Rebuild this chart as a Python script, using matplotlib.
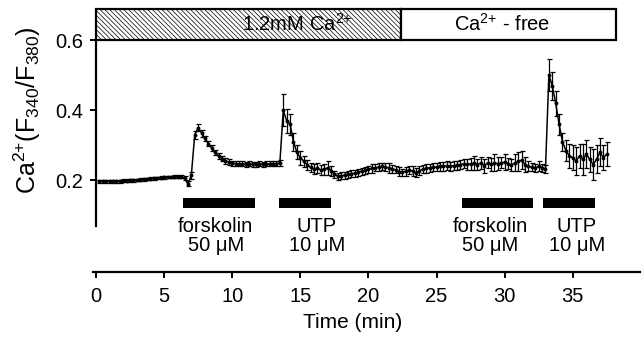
import numpy as np
import matplotlib
matplotlib.use("Agg")
import matplotlib.pyplot as plt
from matplotlib.patches import Rectangle

plt.rcParams['font.family'] = ['Liberation Sans', 'DejaVu Sans']
plt.rcParams['mathtext.fontset'] = 'custom'
plt.rcParams['mathtext.rm'] = 'Liberation Sans'
plt.rcParams['hatch.color'] = '#909090'
plt.rcParams['hatch.linewidth'] = 0.5

# ---- data (time step 0.25 min) ----
t_start, t_step = 0.25, 0.25
ratio = [
    0.197, 0.197, 0.197, 0.198,
    0.198, 0.198, 0.198, 0.199,
    0.199, 0.200, 0.200, 0.201,
    0.202, 0.203, 0.204, 0.205,
    0.206, 0.207, 0.208, 0.209,
    0.210, 0.210, 0.211, 0.211,
    0.211, 0.206, 0.190, 0.215,
    0.330, 0.350, 0.335, 0.320,
    0.305, 0.292, 0.280, 0.270,
    0.262, 0.256, 0.252, 0.249,
    0.248, 0.247, 0.247, 0.246,
    0.247, 0.246, 0.246, 0.247,
    0.246, 0.247, 0.247, 0.248,
    0.248, 0.250, 0.400, 0.370,
    0.360, 0.310, 0.280, 0.265,
    0.255, 0.245, 0.237, 0.232,
    0.235, 0.230, 0.232, 0.236,
    0.228, 0.218, 0.212, 0.213,
    0.215, 0.217, 0.219, 0.221,
    0.223, 0.226, 0.229, 0.232,
    0.234, 0.236, 0.238, 0.240,
    0.238, 0.236, 0.233, 0.230,
    0.225, 0.223, 0.226, 0.230,
    0.226, 0.222, 0.228, 0.232,
    0.234, 0.236, 0.238, 0.238,
    0.240, 0.240, 0.242, 0.240,
    0.242, 0.243, 0.245, 0.248,
    0.246, 0.247, 0.250, 0.245,
    0.250, 0.242, 0.250, 0.246,
    0.250, 0.248, 0.250, 0.252,
    0.248, 0.244, 0.250, 0.254,
    0.258, 0.245, 0.240, 0.238,
    0.236, 0.240, 0.236, 0.232,
    0.500, 0.470, 0.420, 0.360,
    0.310, 0.285, 0.270, 0.265,
    0.255, 0.270, 0.260, 0.275,
    0.260, 0.245, 0.260, 0.280,
    0.265, 0.275,
]
sem = [
    0.004, 0.004, 0.004, 0.004,
    0.004, 0.004, 0.004, 0.004,
    0.004, 0.004, 0.004, 0.004,
    0.004, 0.004, 0.004, 0.004,
    0.004, 0.004, 0.004, 0.004,
    0.004, 0.004, 0.004, 0.004,
    0.005, 0.006, 0.007, 0.010,
    0.012, 0.010, 0.010, 0.008,
    0.008, 0.008, 0.008, 0.008,
    0.008, 0.008, 0.008, 0.007,
    0.007, 0.007, 0.007, 0.007,
    0.007, 0.007, 0.007, 0.007,
    0.007, 0.007, 0.007, 0.007,
    0.007, 0.008, 0.045, 0.035,
    0.030, 0.025, 0.020, 0.020,
    0.016, 0.014, 0.014, 0.014,
    0.014, 0.014, 0.016, 0.020,
    0.014, 0.010, 0.010, 0.010,
    0.010, 0.010, 0.010, 0.010,
    0.010, 0.010, 0.010, 0.010,
    0.012, 0.010, 0.012, 0.010,
    0.012, 0.014, 0.012, 0.010,
    0.012, 0.010, 0.012, 0.012,
    0.014, 0.012, 0.012, 0.012,
    0.012, 0.012, 0.012, 0.012,
    0.012, 0.012, 0.012, 0.012,
    0.012, 0.012, 0.012, 0.012,
    0.016, 0.018, 0.020, 0.016,
    0.018, 0.020, 0.016, 0.018,
    0.024, 0.018, 0.016, 0.022,
    0.016, 0.018, 0.024, 0.028,
    0.026, 0.022, 0.014, 0.012,
    0.012, 0.014, 0.012, 0.012,
    0.045, 0.040, 0.035, 0.030,
    0.025, 0.030, 0.035, 0.035,
    0.040, 0.035, 0.045, 0.040,
    0.035, 0.045, 0.040, 0.040,
    0.035, 0.035,
]
time = t_start + t_step * np.arange(len(ratio))

# treatment bars (start, end) in min and labels
treat_start = [6.41, 13.46, 26.89, 32.84]
treat_end = [11.67, 17.25, 32.10, 36.64]
treat_label_x = [8.8, 16.2, 28.95, 35.3]
treat_labels = ["forskolin\n50 μM", "UTP\n10 μM", "forskolin\n50 μM", "UTP\n10 μM"]

# bath solution boxes
bath_start = [0.0, 22.42]
bath_end = [22.42, 38.15]
sup = "$^{\\mathregular{2{+}}}$"
bath_labels = ["1.2mM Ca" + sup, "Ca" + sup + " - free"]
bath_label_x = [14.8, 29.8]

fig = plt.figure(figsize=(6.42, 3.39), dpi=100)
ax = fig.add_axes([93/642, 1 - 272/339, (640 - 93)/642, (272 - 9)/339])
ax.set_xlim(-0.22, 39.94)
ax.set_ylim(-0.061, 0.6886)

ax.errorbar(time, ratio, yerr=sem, color='black', lw=1.1, elinewidth=0.9,
            capsize=1.8, capthick=0.9, marker='o', ms=1.8, zorder=3)

# treatment bars
for s, e in zip(treat_start, treat_end):
    ax.add_patch(Rectangle((s, 0.121), e - s, 0.029, color='black', lw=0))
for xl, lab in zip(treat_label_x, treat_labels):
    ax.text(xl, 0.095, lab, ha='center', va='top', fontsize=14.5, linespacing=0.95)

# bath boxes
ax.add_patch(Rectangle((bath_start[0], 0.6), bath_end[0] - bath_start[0], 0.0886,
                       facecolor='white', edgecolor='black', lw=1.6,
                       hatch='\\\\\\\\\\\\\\', clip_on=False, zorder=2))
ax.add_patch(Rectangle((bath_start[1], 0.6), bath_end[1] - bath_start[1], 0.0886,
                       facecolor='white', edgecolor='black', lw=1.6,
                       clip_on=False, zorder=2))
for xl, lab in zip(bath_label_x, bath_labels):
    ax.text(xl, 0.646, lab, ha='center', va='center', fontsize=14.5, zorder=4)

# spines
for side in ['top', 'right']:
    ax.spines[side].set_visible(False)
ax.spines['left'].set_position(('data', 0))
ax.spines['left'].set_bounds(0.069, 0.6)
ax.spines['left'].set_linewidth(1.6)
ax.spines['bottom'].set_linewidth(1.6)

ax.set_yticks([0.2, 0.4, 0.6])
ax.set_yticklabels(['0.2', '0.4', '0.6'])
ax.set_xticks([0, 5, 10, 15, 20, 25, 30, 35])
ax.tick_params(axis='both', labelsize=14.5, width=1.4, length=4.5, direction='out')
ax.tick_params(axis='y', pad=5)
ax.tick_params(axis='x', pad=6)

fig.text(353/642, 1 - 323/339, 'Time (min)', ha='center', va='center', fontsize=15)
fig.text(27/642, 1 - 110/339,
         'Ca$^{\\mathregular{2{+}}}$(F$_{\\mathregular{340}}$/F$_{\\mathregular{380}}$)',
         rotation=90, ha='center', va='center', fontsize=18)

fig.savefig('out.png', dpi=100)
